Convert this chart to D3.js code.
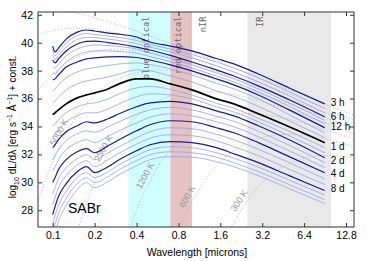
<!DOCTYPE html>
<html>
<head>
<meta charset="utf-8">
<script src="https://cdn.jsdelivr.net/npm/d3@7"></script>
<style>
  body { margin: 0; background: #fff; }
  svg { display: block; font-family: "Liberation Sans", Arial, sans-serif; }
</style>
</head>
<body>
<svg id="chart" width="374" height="261"></svg>
<script>
// wavelengths (microns) the spectra were read at
const wave = [0.1, 0.104, 0.11, 0.125, 0.15, 0.175, 0.2, 0.25, 0.3, 0.4, 0.5, 0.7, 1.0, 1.5, 2.0, 3.0, 5.0, 9.0];

// epochs in hours, 3h * 2^(1/3) steps
const epochHours = [3, 3.8, 4.8, 6, 7.6, 9.5, 12, 15, 19, 24, 30, 38, 48, 60, 76, 96, 121, 152, 192, 242, 305, 384];

// log10 dL/dlambda + const, one row per epoch
const spectra = [
  [39.76, 39.34, 39.62, 40.26, 40.76, 40.91, 40.84, 40.69, 40.62, 40.41, 40.05, 39.76, 39.41, 38.87, 38.48, 37.76, 36.76, 35.62], // 3h
  [39.48, 39.05, 39.34, 39.98, 40.51, 40.66, 40.59, 40.48, 40.37, 40.16, 39.87, 39.55, 39.16, 38.62, 38.19, 37.48, 36.48, 35.30],
  [39.12, 38.80, 39.09, 39.69, 40.23, 40.37, 40.37, 40.26, 40.16, 39.94, 39.69, 39.34, 38.91, 38.34, 37.91, 37.19, 36.19, 34.98],
  [38.76, 38.55, 38.84, 39.41, 39.91, 40.09, 40.12, 40.01, 39.91, 39.69, 39.48, 39.09, 38.62, 38.05, 37.62, 36.91, 35.91, 34.69], // 6h
  [38.34, 38.19, 38.48, 39.05, 39.55, 39.76, 39.84, 39.80, 39.73, 39.55, 39.26, 38.87, 38.41, 37.84, 37.41, 36.69, 35.69, 34.44],
  [37.84, 37.76, 38.05, 38.62, 39.12, 39.34, 39.41, 39.41, 39.37, 39.26, 39.01, 38.66, 38.19, 37.62, 37.19, 36.48, 35.44, 34.19],
  [37.34, 37.41, 37.69, 38.26, 38.62, 38.84, 38.91, 38.98, 39.01, 38.94, 38.76, 38.41, 37.98, 37.41, 36.98, 36.26, 35.19, 33.91], // 12h
  [36.55, 36.69, 36.98, 37.48, 37.91, 38.12, 38.23, 38.37, 38.48, 38.55, 38.44, 38.12, 37.69, 37.09, 36.69, 35.98, 34.84, 33.55],
  [35.69, 35.84, 36.12, 36.62, 37.05, 37.26, 37.37, 37.55, 37.76, 38.05, 37.98, 37.62, 37.19, 36.55, 36.16, 35.44, 34.41, 33.19],
  [34.84, 34.98, 35.19, 35.62, 36.05, 36.26, 36.41, 36.69, 37.05, 37.41, 37.41, 37.05, 36.62, 35.98, 35.62, 34.91, 33.98, 32.84], // 1d
  [34.05, 34.19, 34.48, 34.98, 35.41, 35.62, 35.69, 35.98, 36.34, 36.76, 36.87, 36.66, 36.26, 35.66, 35.30, 34.59, 33.66, 32.48],
  [33.26, 33.48, 33.76, 34.34, 34.76, 34.98, 34.98, 35.26, 35.62, 36.12, 36.34, 36.26, 35.98, 35.41, 35.05, 34.34, 33.34, 32.12],
  [32.48, 32.69, 33.05, 33.62, 34.05, 34.34, 34.26, 34.55, 34.91, 35.41, 35.69, 35.80, 35.62, 35.12, 34.76, 34.05, 33.05, 31.76], // 2d
  [31.62, 31.91, 32.34, 32.98, 33.48, 33.69, 33.59, 33.98, 34.34, 34.87, 35.19, 35.37, 35.19, 34.73, 34.37, 33.66, 32.66, 31.41],
  [30.84, 31.12, 31.62, 32.34, 32.84, 33.05, 32.84, 33.30, 33.69, 34.26, 34.66, 34.91, 34.76, 34.34, 33.98, 33.26, 32.26, 31.05],
  [29.98, 30.34, 30.91, 31.62, 32.19, 32.41, 32.12, 32.62, 33.05, 33.69, 34.12, 34.41, 34.34, 33.91, 33.55, 32.84, 31.84, 30.69], // 4d
  [29.19, 29.62, 30.26, 31.05, 31.69, 31.98, 31.62, 32.12, 32.55, 33.19, 33.62, 33.91, 33.84, 33.44, 33.05, 32.37, 31.41, 30.26],
  [28.41, 28.91, 29.62, 30.48, 31.23, 31.55, 31.12, 31.62, 32.09, 32.73, 33.16, 33.41, 33.34, 32.98, 32.55, 31.91, 30.94, 29.84],
  [27.69, 28.26, 28.98, 29.91, 30.76, 31.12, 30.69, 31.12, 31.62, 32.26, 32.69, 32.91, 32.84, 32.48, 32.05, 31.41, 30.48, 29.41], // 8d
  [26.98, 27.62, 28.34, 29.34, 30.34, 30.69, 30.34, 30.76, 31.26, 31.91, 32.34, 32.55, 32.48, 32.12, 31.73, 31.09, 30.16, 29.09],
  [26.26, 26.98, 27.76, 28.84, 29.91, 30.34, 29.98, 30.41, 30.91, 31.55, 31.98, 32.19, 32.12, 31.80, 31.41, 30.76, 29.84, 28.76],
  [25.55, 26.34, 27.19, 28.34, 29.48, 29.98, 29.62, 30.05, 30.55, 31.19, 31.62, 31.84, 31.80, 31.48, 31.12, 30.48, 29.55, 28.48]
];

// labelled epochs on the right
const labelHours = [3, 6, 12, 24, 48, 96, 192];
const labelText = ["3 h", "6 h", "12 h", "1 d", "2 d", "4 d", "8 d"];
const labelLevel = [35.69, 34.69, 33.98, 32.55, 31.55, 30.62, 29.55];

// wavelength bands (microns)
const bandNames = ["blue optical", "red optical", "nIR", "IR"];
const bandLo = [0.35, 0.7, 1.0, 2.5];
const bandHi = [0.7, 1.0, 2.5, 10];
const bandLabelAt = [0.464, 0.795, 1.21, 3.09];

// reference blackbodies, log10 B_lambda + const
const bbTemps = [40000, 20000, 10000, 5000, 2500, 1200, 600, 300];
const bbConst = 39.0;
const bbLabels = ["", "", "", "5000 K", "2500 K", "1200 K", "600 K", "300 K"];
const bbLabelAt = [0, 0, 0, 0.1226, 0.256, 0.51, 1.02, 2.4];

const xTicks = [0.1, 0.2, 0.4, 0.8, 1.6, 3.2, 6.4, 12.8];
const yTicks = [28, 30, 32, 34, 36, 38, 40, 42];

const svg = d3.select('#chart');

const x = d3.scaleLog().base(2).domain([0.0784, 14.6]).range([38, 354]);
const y = d3.scaleLinear().domain([26.8, 42.2]).range([227, 12]);

svg.append('clipPath').attr('id', 'clip')
    .append('rect')
    .attr('x', x.range()[0]).attr('y', y.range()[1])
    .attr('width', x.range()[1] - x.range()[0])
    .attr('height', y.range()[0] - y.range()[1]);

const plot = svg.append('g').attr('clip-path', 'url(#clip)');

// shaded bands
const bandFill = ['#d0fdfd', '#e6c3c3', 'none', '#e9e9e9'];
plot.selectAll('rect.band')
    .data(bandNames)
    .enter()
    .append('rect')
    .attr('x', (d, i) => x(bandLo[i]))
    .attr('width', (d, i) => x(bandHi[i]) - x(bandLo[i]))
    .attr('y', y.range()[1])
    .attr('height', y.range()[0] - y.range()[1])
    .attr('fill', (d, i) => bandFill[i]);

// blackbody curves (Planck, lambda in microns)
function planck(lam, T) {
    const a = 14388 / (lam * T);
    return bbConst - 5 * Math.log10(lam) - (a * Math.LOG10E + Math.log10(1 - Math.exp(-a)));
}
const bbGrid = d3.range(0, 301).map(i => 0.0784 * Math.pow(14.6 / 0.0784, i / 300));
const bbLine = d3.line().x(d => x(d[0])).y(d => y(d[1]));

plot.selectAll('path.bb')
    .data(bbTemps)
    .enter()
    .append('path')
    .attr('d', T => bbLine(bbGrid.map(l => [l, planck(l, T)])))
    .attr('fill', 'none')
    .attr('stroke', '#aaa')
    .attr('stroke-width', 0.9)
    .attr('stroke-dasharray', '1,2');

// blackbody labels along the curves
bbTemps.forEach((T, i) => {
    if (!bbLabels[i]) return;
    const l = bbLabelAt[i];
    const px = x(l), py = y(planck(l, T));
    const dx = x(l * 1.03) - x(l * 0.97);
    const dy = y(planck(l * 1.03, T)) - y(planck(l * 0.97, T));
    const len = Math.sqrt(dx * dx + dy * dy);
    const ang = Math.atan2(dy, dx) * 180 / Math.PI;
    const ox = px + 7 * dy / len, oy = py - 7 * dx / len;
    plot.append('text')
        .attr('transform', 'translate(' + ox + ',' + oy + ') rotate(' + ang + ')')
        .attr('text-anchor', 'middle')
        .attr('dy', '0.35em')
        .style('font-size', '9px')
        .attr('fill', '#999')
        .text(bbLabels[i]);
});

// band labels
plot.selectAll('text.band')
    .data(bandNames)
    .enter()
    .append('text')
    .attr('transform', (d, i) => 'translate(' + x(bandLabelAt[i]) + ',16.5) rotate(-90)')
    .attr('text-anchor', 'end')
    .attr('dy', '0.35em')
    .style('font-family', '"DejaVu Sans Mono", monospace')
    .style('font-size', '8.7px')
    .attr('fill', '#666')
    .text(d => d);

// spectra
const line = d3.line()
    .x((d, i) => x(wave[i]))
    .y(d => y(d))
    .curve(d3.curveMonotoneX);

const rows = spectra.map((v, k) => ({ v: v, h: epochHours[k] }));
const kind = h => h === 24 ? 2 : (labelHours.includes(h) ? 1 : 0);
rows.sort((a, b) => kind(a.h) - kind(b.h));

plot.selectAll('path.spec')
    .data(rows)
    .enter()
    .append('path')
    .attr('d', d => line(d.v))
    .attr('fill', 'none')
    .attr('stroke', d => ['#9c9ce8', '#1a1a9a', '#000'][kind(d.h)])
    .attr('stroke-width', d => [0.8, 1.2, 1.7][kind(d.h)]);

// axes, ticks pointing in
const gx = svg.append('g').attr('transform', 'translate(0,' + y.range()[0] + ')')
    .call(d3.axisBottom(x).tickValues(xTicks).tickFormat(d => d)
        .tickSizeInner(-4).tickSizeOuter(0).tickPadding(5));
const gxTop = svg.append('g').attr('transform', 'translate(0,' + y.range()[1] + ')')
    .call(d3.axisTop(x).tickValues(xTicks).tickFormat('')
        .tickSizeInner(-4).tickSizeOuter(0));
const gy = svg.append('g').attr('transform', 'translate(' + x.range()[0] + ',0)')
    .call(d3.axisLeft(y).tickValues(yTicks).tickFormat(d => d)
        .tickSizeInner(-4).tickSizeOuter(0).tickPadding(5));
const gyRight = svg.append('g').attr('transform', 'translate(' + x.range()[1] + ',0)')
    .call(d3.axisRight(y).tickValues(yTicks).tickFormat('')
        .tickSizeInner(-4).tickSizeOuter(0));

[gx, gxTop, gy, gyRight].forEach(g => {
    g.select('.domain').remove();
    g.selectAll('line').attr('stroke', '#333');
    g.selectAll('text').style('font-size', '10.5px').style('font-family', '"Liberation Sans", Arial, sans-serif').attr('fill', '#000');
});

svg.append('rect')
    .attr('x', x.range()[0]).attr('y', y.range()[1])
    .attr('width', x.range()[1] - x.range()[0])
    .attr('height', y.range()[0] - y.range()[1])
    .attr('fill', 'none')
    .attr('stroke', '#333')
    .attr('stroke-width', 1);

// epoch labels
svg.selectAll('text.epoch')
    .data(labelText)
    .enter()
    .append('text')
    .attr('x', x(wave[wave.length - 1]) + 6)
    .attr('y', (d, i) => y(labelLevel[i]))
    .attr('dy', '0.35em')
    .style('font-size', '10px')
    .text(d => d);

svg.append('text')
    .attr('x', 68).attr('y', 213)
    .style('font-size', '14px')
    .text('SABr');

svg.append('text')
    .attr('x', 197).attr('y', 256)
    .attr('text-anchor', 'middle')
    .style('font-size', '10.5px')
    .text('Wavelength [microns]');

const ylab = svg.append('text')
    .attr('transform', 'translate(16,127) rotate(-90)')
    .attr('text-anchor', 'middle')
    .style('font-size', '10px');
ylab.append('tspan').text('log');
ylab.append('tspan').attr('dy', 2.5).style('font-size', '7px').text('10');
ylab.append('tspan').attr('dy', -2.5).text(' dL/dλ [erg s');
ylab.append('tspan').attr('dy', -4).style('font-size', '7px').text('−1');
ylab.append('tspan').attr('dy', 4).text(' Å');
ylab.append('tspan').attr('dy', -4).style('font-size', '7px').text('−1');
ylab.append('tspan').attr('dy', 4).text('] + const.');
</script>
</body>
</html>
